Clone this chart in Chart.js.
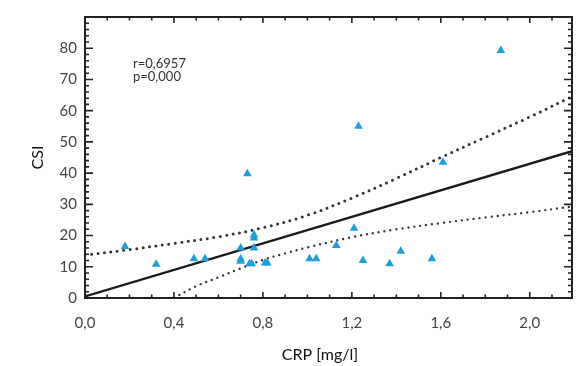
<!DOCTYPE html>
<html>
<head>
<meta charset="utf-8">
<script src="https://cdn.jsdelivr.net/npm/chart.js@4"></script>
<style>
  html, body { margin: 0; padding: 0; background: #fff; }
  #wrap { width: 577px; height: 366px; }
</style>
</head>
<body>
<div id="wrap"><canvas id="scatterChart"></canvas></div>
<script>
// ── Data ──
const crp = [0.18, 0.32, 0.49, 0.54, 0.70, 0.70, 0.70, 0.73, 0.74, 0.75, 0.76, 0.76, 0.76,
             0.81, 0.82, 1.01, 1.04, 1.13, 1.21, 1.23, 1.25, 1.37, 1.42, 1.56, 1.61, 1.87];
const csi = [16.5, 10.8, 12.6, 12.6, 16.0, 12.5, 11.8, 39.8, 11.0, 11.0, 20.2, 19.2, 16.0,
             11.2, 11.2, 12.6, 12.6, 16.8, 22.3, 55.0, 12.0, 11.0, 15.0, 12.6, 43.5, 79.3];

// regression line end points
const fitX = [0, 2.19];
const fitY = [0.5, 47];

// 95% confidence band
const upperX = [0, 0.2, 0.4, 0.6, 0.8, 1.0, 1.2, 1.4, 1.6, 1.8, 2.0, 2.19];
const upperY = [13.8, 15.5, 17.5, 19.6, 22.5, 26.5, 32, 38.3, 45, 51.5, 58, 64.5];
const lowerX = [0.4, 0.5, 0.6, 0.7, 0.8, 0.9, 1.0, 1.2, 1.4, 1.6, 1.8, 2.0, 2.19];
const lowerY = [0, 3.8, 6.6, 9.5, 12.2, 14.3, 16.2, 19.5, 22.0, 24.0, 25.8, 27.5, 29.3];

const xTicks = [0, 0.4, 0.8, 1.2, 1.6, 2.0];
const yTicks = [0, 10, 20, 30, 40, 50, 60, 70, 80];
const statsText = ['r=0,6957', 'p=0,000'];
const xTitle = 'CRP [mg/l]';

const toXY = (xs, ys) => xs.map((v, i) => ({ x: v, y: ys[i] }));

// frame with inward ticks, the r / p note and the x title
const framePlugin = {
    id: 'frame',
    afterDatasetsDraw(chart) {
        const { ctx, chartArea: a, scales: { x, y } } = chart;
        ctx.save();
        ctx.strokeStyle = '#222';
        ctx.lineWidth = 2;
        ctx.strokeRect(a.left, a.top, a.right - a.left, a.bottom - a.top);

        ctx.lineWidth = 1.6;
        ctx.beginPath();
        for (let i = 0; i <= 21; i++) {
            const px = x.getPixelForValue(i / 10);
            const len = i % 4 === 0 ? 6 : 3.5;
            ctx.moveTo(px, a.bottom); ctx.lineTo(px, a.bottom - len);
            ctx.moveTo(px, a.top); ctx.lineTo(px, a.top + len);
        }
        for (let v = 0; v <= 88; v += 2) {
            const py = y.getPixelForValue(v);
            const len = v % 10 === 0 ? 8 : 4;
            ctx.moveTo(a.left, py); ctx.lineTo(a.left + len, py);
            ctx.moveTo(a.right, py); ctx.lineTo(a.right - len, py);
        }
        ctx.stroke();

        ctx.fillStyle = '#333';
        ctx.font = '13px Lato';
        ctx.textBaseline = 'middle';
        ctx.fillText(statsText[0], 133, 64);
        ctx.fillText(statsText[1], 133, 77);

        ctx.fillStyle = '#111';
        ctx.font = '16px Lato';
        ctx.textAlign = 'center';
        ctx.fillText(xTitle, 320, 355);
        ctx.restore();
    }
};

const tickFont = { family: 'Lato', size: 15 };
const titleFont = { family: 'Lato', size: 16 };

new Chart(document.getElementById('scatterChart'), {
    type: 'scatter',
    data: {
        datasets: [
            {
                label: 'CSI',
                data: toXY(crp, csi),
                pointStyle: 'triangle',
                pointRadius: 5,
                pointHoverRadius: 5,
                backgroundColor: '#1ba0dc',
                borderWidth: 0,
                order: 0,
            },
            {
                label: 'fit',
                type: 'line',
                data: toXY(fitX, fitY),
                borderColor: '#1a1a1a',
                borderWidth: 2.4,
                pointRadius: 0,
                order: 1,
            },
            {
                label: 'upper',
                type: 'line',
                data: toXY(upperX, upperY),
                borderColor: '#333',
                borderWidth: 3,
                borderDash: [0, 6.5],
                borderCapStyle: 'round',
                tension: 0.35,
                pointRadius: 0,
                order: 2,
            },
            {
                label: 'lower',
                type: 'line',
                data: toXY(lowerX, lowerY),
                borderColor: '#3a3a3a',
                borderWidth: 2.4,
                borderDash: [0, 6],
                borderCapStyle: 'round',
                tension: 0.35,
                pointRadius: 0,
                order: 3,
            }
        ]
    },
    options: {
        responsive: true,
        maintainAspectRatio: false,
        animation: false,
        layout: { padding: { top: 14, right: 3, left: 0, bottom: 0 } },
        plugins: { legend: { display: false }, tooltip: { enabled: false } },
        scales: {
            x: {
                type: 'linear', min: 0, max: 2.19,
                grid: { display: false, drawTicks: false }, border: { display: false },
                afterBuildTicks: s => { s.ticks = xTicks.map(v => ({ value: v })); },
                afterFit: s => { s.height = 68; },
                ticks: {
                    font: tickFont, color: '#444', padding: 16, maxRotation: 0,
                    callback: v => v.toFixed(1).replace('.', ',')
                }
            },
            y: {
                type: 'linear', min: 0, max: 90,
                grid: { display: false, drawTicks: false }, border: { display: false },
                afterBuildTicks: s => { s.ticks = yTicks.map(v => ({ value: v })); },
                afterFit: s => { s.width = 85; },
                ticks: { font: tickFont, color: '#444', padding: 8 },
                title: { display: true, text: 'CSI', font: titleFont, color: '#111', padding: { top: 28, bottom: 0 } }
            }
        }
    },
    plugins: [framePlugin]
});
</script>
</body>
</html>
